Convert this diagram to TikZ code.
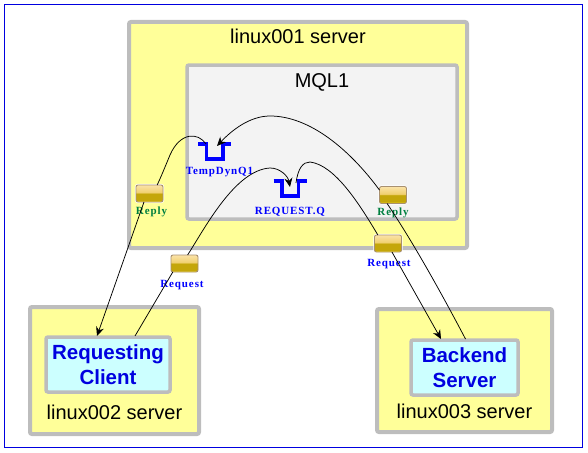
\documentclass[tikz,border=0pt]{standalone}
\usepackage{fontspec}
\setmainfont{Liberation Sans}
\newfontfamily\msgfont[LetterSpace=8]{Liberation Serif}
\usetikzlibrary{arrows.meta,positioning}
\definecolor{boxgrey}{HTML}{BDBDBD}
\definecolor{srvyellow}{HTML}{FFFF99}
\definecolor{mqlgrey}{HTML}{F3F3F3}
\definecolor{appcyan}{HTML}{CCFFFF}
\definecolor{framblue}{HTML}{0000E0}
\definecolor{qblue}{HTML}{0000FF}
\definecolor{replygreen}{HTML}{008040}
\definecolor{msgedge}{HTML}{A89070}
\definecolor{msgtop}{HTML}{FBE3A8}
\definecolor{msgmid}{HTML}{F0D070}
\definecolor{msgdark}{HTML}{C4A60A}
\definecolor{msglow}{HTML}{F2D820}
\pgfdeclareverticalshading{msgshade}{100bp}{color(0bp)=(msglow);color(27bp)=(msglow);color(30bp)=(msgdark);color(50bp)=(msgdark);color(53bp)=(msgmid);color(75bp)=(msgtop);color(100bp)=(msgtop)}

\begin{document}
\begin{tikzpicture}[
	x=1pt,y=-1pt,
	srvbox/.style={draw=boxgrey,line width=4pt,fill=srvyellow,rounded corners=2pt,inner sep=0pt,outer sep=0pt},
	mqlbox/.style={draw=boxgrey,line width=3.5pt,fill=mqlgrey,rounded corners=2pt,inner sep=0pt,outer sep=0pt},
	appbox/.style={draw=boxgrey,line width=3.5pt,fill=appcyan,rounded corners=2pt,inner sep=0pt,outer sep=0pt,align=center,text=framblue,font=\fontsize{20.5}{24.5}\selectfont\bfseries},
	srvtext/.style={inner sep=0pt,font=\fontsize{20}{24}\selectfont},
	qspot/.style={minimum width=33pt,minimum height=15pt,inner sep=0pt,outer sep=0pt},
	qline/.style={qblue,line width=3.2pt},
	msgicon/.style={draw=msgedge,line width=0.9pt,rounded corners=2pt,shading=msgshade,minimum width=27pt,minimum height=17pt,inner sep=0pt,outer sep=0pt,preaction={draw=white,line width=2.2pt}},
	qtext/.style={inner sep=0pt,text=qblue,font=\fontsize{11}{12}\selectfont\msgfont\bfseries},
	replytext/.style={qtext,text=replygreen},
	flow/.style={black,line width=0.75pt},
	flowin/.style={flow,-{Stealth[length=9pt,width=8pt]}}
	]
	\useasboundingbox (0,0) rectangle (588,452);
	\node[draw=framblue,line width=0.8pt,minimum width=578pt,minimum height=443pt,inner sep=0pt] (frame) at (293,225.5) {};
	% servers and queue manager
	\node[srvbox,minimum width=338pt,minimum height=226pt] (srv1) at (298,135) {};
	\node[srvtext] (srv1text) [below=7pt of srv1.north] {linux001 server};
	\node[mqlbox,minimum width=270pt,minimum height=154pt] (mql) at (322,142) {};
	\node[srvtext] (mqltext) [below=8pt of mql.north] {MQL1};
	\node[srvbox,minimum width=169pt,minimum height=127pt] (srv2) at (114.5,370.5) {};
	\node[srvbox,minimum width=175pt,minimum height=123pt] (srv3) at (464.5,370.5) {};
	\node[appbox,minimum width=124pt,minimum height=55pt] (client) at (108,364.5) {Requesting\\ Client};
	\node[appbox,minimum width=107pt,minimum height=55pt] (backend) at (464.5,367.5) {Backend\\ Server};
	\node[srvtext,xshift=6.5pt] (srv2text) [below=13pt of client] {linux002 server};
	\node[srvtext] (srv3text) [below=9pt of backend] {linux003 server};
	% queues
	\node[qspot] (q1) at (214.5,151.5) {};
	\node[qspot] (q2) at (290,188.5) {};
	\foreach \q in {q1,q2}
		\draw[qline] (\q.north west) -- ++(8.5,0) -- ++(0,15) -- ++(16.5,0) -- ++(0,-15) -- ++(8,0);
	\node[qtext,xshift=5pt] (q1text) [below=8pt of q1] {TempDynQ1};
	\node[qtext] (q2text) [below=11pt of q2] {REQUEST.Q};
	% messages
	\node[msgicon] (msgleft) at (149.5,193.5) {};
	\node[msgicon] (msgright) at (393,195) {};
	\node[msgicon] (reqright) at (388,243.5) {};
	\node[msgicon] (reqleft) at (184.5,263.5) {};
	\node[replytext,xshift=2pt] (msgleftt) [below=4.5pt of msgleft] {Reply};
	\node[replytext] (msgrightt) [below=4.5pt of msgright] {Reply};
	\node[qtext,xshift=1pt] (reqrightt) [below=7pt of reqright] {Request};
	\node[qtext,xshift=-2.5pt] (reqleftt) [below=8pt of reqleft] {Request};
	% connector ends
	\coordinate (q1in) at ([shift={(2.5,2)}]q1.north);
	\coordinate (q1out) at ([shift={(8,0)}]q1.north west);
	\coordinate (q2in) at ([shift={(0,6)}]q2.north);
	\coordinate (q2out) at ([shift={(6,2)}]q2.north);
	\coordinate (clientin) at ([shift={(-11,-1)}]client.north);
	\coordinate (clientout) at ([shift={(27,-1)}]client.north);
	\coordinate (backendin) at ([shift={(-23.5,-1)}]backend.north);
	\coordinate (backendout) at ([shift={(1,-1)}]backend.north);
	% reply flow
	\draw[flow] (backendout) .. controls (445,300) and (415,245) .. (msgright.235);
	\draw[flowin] (msgright.160) .. controls (350,150) and (310,116) .. (270,116) .. controls (250,116) and (232,130) .. (q1in);
	\draw[flow] (q1out) .. controls (198,132) and (180,132) .. (170,155) .. controls (165,167) and (161,177) .. (msgleft.48);
	\draw[flowin] (msgleft.237) -- (clientin);
	% request flow
	\draw[flow] (clientout) -- (reqleft.216);
	\draw[flowin] (reqleft.70) .. controls (205,228) and (235,170) .. (270,168) .. controls (280,168) and (288,176) .. (q2in);
	\draw[flow] (q2out) .. controls (298,168) and (303,162) .. (310,162) .. controls (335,165) and (360,205) .. (reqright.140);
	\draw[flowin] (reqright.295) -- (backendin);
\end{tikzpicture}
\end{document}
